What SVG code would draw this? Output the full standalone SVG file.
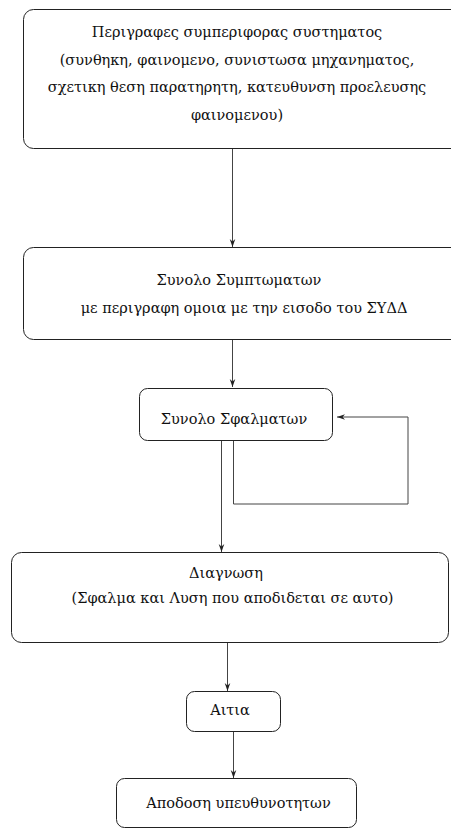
<svg xmlns="http://www.w3.org/2000/svg" width="451" height="830" viewBox="0 0 451 830">
  <style>
    .box { fill: #ffffff; stroke: #222222; stroke-width: 1; }
    .lbl { font-family: "DejaVu Serif", "Liberation Serif", serif; font-size: 14.5px; fill: #111111; text-anchor: middle; }
    .edge { fill: none; stroke: #444444; stroke-width: 1; marker-end: url(#arrow); }
  </style>
  <defs>
    <marker id="arrow" viewBox="0 0 10 10" refX="10" refY="5" markerWidth="8" markerHeight="8" markerUnits="userSpaceOnUse" orient="auto">
      <path d="M0,1.5 L10,5 L0,8.5 L3,5 Z" fill="#222222"/>
    </marker>
  </defs>
  <rect width="451" height="830" fill="#ffffff"/>

  <g id="connectors">
    <path class="edge" d="M232.5,148 V247"/>
    <path class="edge" d="M232.5,340 V387"/>
    <path class="edge" d="M233.5,440 V504 H408 V417 H337"/>
    <path class="edge" d="M221.5,440 V552"/>
    <path class="edge" d="M227.5,642 V691"/>
    <path class="edge" d="M233.5,731 V778"/>
  </g>

  <g id="node-behaviour">
    <rect class="box" x="23.5" y="9.5" width="450" height="139" rx="10"/>
    <text class="lbl" x="237" y="37">Περιγραφες συμπεριφορας συστηματος</text>
    <text class="lbl" x="237" y="65">(συνθηκη, φαινομενο, συνιστωσα μηχανηματος,</text>
    <text class="lbl" x="237" y="92">σχετικη θεση παρατηρητη, κατευθυνση προελευσης</text>
    <text class="lbl" x="237" y="120">φαινομενου)</text>
  </g>

  <g id="node-symptoms">
    <rect class="box" x="23.5" y="247.5" width="450" height="92" rx="10"/>
    <text class="lbl" x="239" y="285">Συνολο Συμπτωματων</text>
    <text class="lbl" x="244" y="313">με περιγραφη ομοια με την εισοδο του ΣΥΔΔ</text>
  </g>

  <g id="node-faults">
    <rect class="box" x="139.5" y="388.5" width="193" height="52" rx="8"/>
    <text class="lbl" x="234" y="424">Συνολο Σφαλματων</text>
  </g>

  <g id="node-diagnosis">
    <rect class="box" x="11.5" y="552.5" width="437" height="90" rx="10"/>
    <text class="lbl" x="226" y="578">Διαγνωση</text>
    <text class="lbl" x="232.5" y="603">(Σφαλμα και Λυση που αποδιδεται σε αυτο)</text>
  </g>

  <g id="node-cause">
    <rect class="box" x="186.5" y="691.5" width="94" height="40" rx="8"/>
    <text class="lbl" x="230" y="715">Αιτια</text>
  </g>

  <g id="node-responsibility">
    <rect class="box" x="116.5" y="778.5" width="240" height="49" rx="8"/>
    <text class="lbl" x="238.5" y="808">Αποδοση υπευθυνοτητων</text>
  </g>
</svg>
